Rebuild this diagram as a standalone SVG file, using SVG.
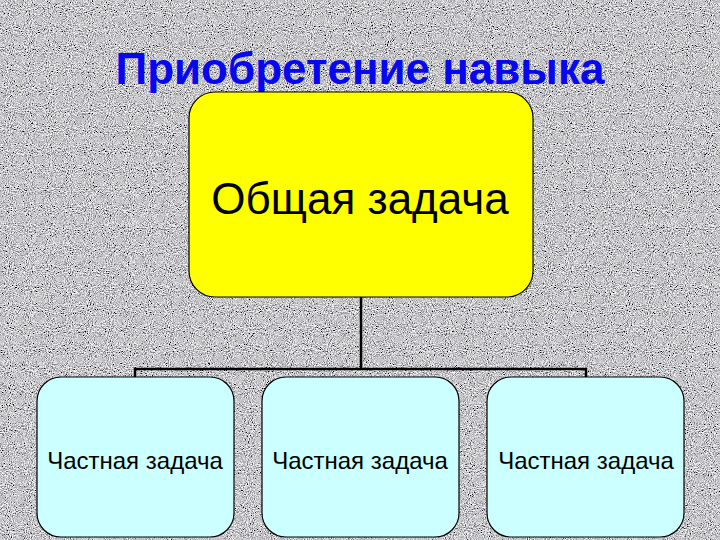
<svg xmlns="http://www.w3.org/2000/svg" width="720" height="540" viewBox="0 0 720 540">
<defs>
<filter id="granite" x="0" y="0" width="100%" height="100%">
<feTurbulence type="fractalNoise" baseFrequency="0.95" numOctaves="2" seed="4" result="n"/>
<feColorMatrix in="n" type="matrix" values="0.33 0.33 0.33 0 0  0.33 0.33 0.33 0 0  0.33 0.33 0.33 0 0  0 0 0 0 1" result="g"/>
<feComponentTransfer in="g">
<feFuncR type="linear" slope="3.2" intercept="-1.02"/>
<feFuncG type="linear" slope="3.2" intercept="-1.02"/>
<feFuncB type="linear" slope="3.2" intercept="-1.0"/>
</feComponentTransfer>
</filter>
<style>
.title{font-family:"Liberation Sans",Arial,sans-serif;font-weight:bold;font-size:44px;fill:#0808ee;text-anchor:middle}
.main{fill:#ffff00;stroke:#000;stroke-width:1.2}
.sub{fill:#ccffff;stroke:#000;stroke-width:1.2}
.mt{font-family:"Liberation Sans",Arial,sans-serif;font-size:44px;fill:#000;text-anchor:middle}
.st{font-family:"Liberation Sans",Arial,sans-serif;font-size:24px;fill:#000;text-anchor:middle}
.conn{fill:none;stroke:#000;stroke-width:2.5}
</style>
</defs>
<rect width="720" height="540" fill="#9a9a9a"/>
<rect width="720" height="540" filter="url(#granite)"/>
<text class="title" x="360" y="84">Приобретение навыка</text>
<g id="connectors">
<path class="conn" d="M361 297 V369 M135 377 V369 H586 V377"/>
</g>
<g id="main">
<rect class="main" x="189" y="92" width="344" height="205" rx="26"/>
<text class="mt" x="360" y="214">Общая задача</text>
</g>
<g id="sub1">
<rect class="sub" x="37" y="377" width="197" height="160" rx="24"/>
<text class="st" x="135" y="469">Частная задача</text>
</g>
<g id="sub2">
<rect class="sub" x="262" y="377" width="197" height="160" rx="24"/>
<text class="st" x="360" y="469">Частная задача</text>
</g>
<g id="sub3">
<rect class="sub" x="487" y="377" width="197" height="160" rx="24"/>
<text class="st" x="586" y="469">Частная задача</text>
</g>
</svg>
